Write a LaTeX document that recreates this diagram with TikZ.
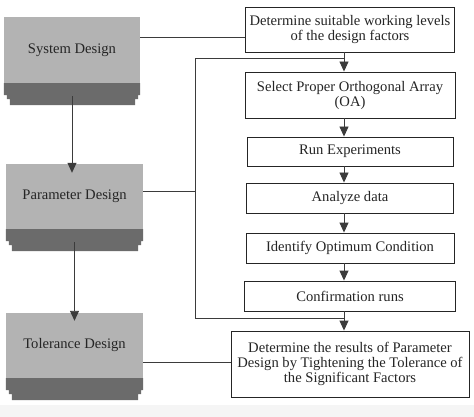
\documentclass[tikz,border=0pt]{standalone}
\usepackage{fontspec}
\setmainfont{Liberation Serif}
\usetikzlibrary{arrows.meta,calc}
\definecolor{phasegray}{HTML}{B3B3B3}
\definecolor{basegray}{HTML}{6B6B6B}
\definecolor{inkgray}{HTML}{252525}
\begin{document}
\begin{tikzpicture}[x=1pt,y=-1pt,
				every node/.style={font=\fontsize{14.6}{15}\selectfont,text=inkgray,align=center,inner sep=0pt},
				phase/.style={fill=phasegray,minimum width=137pt,minimum height=65pt},
				proc/.style={draw=inkgray,line width=0.9pt,fill=white,minimum height=30pt},
				link/.style={draw=inkgray!90,line width=0.9pt},
				flow/.style={link,-{Triangle[length=10pt,width=9pt]}}]
\useasboundingbox (0,0) rectangle (474,417);
\fill[gray!8] (0,405) rectangle (474,417);
% left column
\node[phase,minimum width=136pt,minimum height=66pt] (sys) at (72,50) {System Design};
\node[phase] (par) at (74.5,196.5) {Parameter Design};
\node[phase] (tol) at (74.5,345.5) {Tolerance Design};
\foreach \n in {sys,par,tol}
	\fill[basegray] (\n.south west) -- (\n.south east) -- ($(\n.south east)+(0,12)$)
		-- ($(\n.south east)+(-2,12)$) -- ($(\n.south east)+(-2,16)$) -- ($(\n.south east)+(-5,16)$)
		-- ($(\n.south east)+(-5,22)$) -- ($(\n.south west)+(6,22)$) -- ($(\n.south west)+(6,16)$)
		-- ($(\n.south west)+(3,16)$) -- ($(\n.south west)+(3,12)$) -- ($(\n.south west)+(0,12)$) -- cycle;
% right column
\node[proc,minimum width=209pt,minimum height=45pt] (det) at (350,29.5) {Determine suitable working levels\\of the design factors};
\node[proc,minimum width=210pt,minimum height=46pt] (sel) at (350,95) {Select Proper Orthogonal Array\\(OA)};
\node[proc,minimum width=206pt,minimum height=29pt] (run) at (350,151.5) {Run Experiments};
\node[proc,minimum width=207pt] (ana) at (350,198) {Analyze data};
\node[proc,minimum width=208pt] (ide) at (350,248) {Identify Optimum Condition};
\node[proc,minimum width=211pt] (con) at (350,296) {Confirmation runs};
\node[proc,minimum width=238pt,minimum height=66pt] (fin) at (350,364) {Determine the results of Parameter\\Design by Tightening the Tolerance of\\the Significant Factors};
\coordinate (ltop) at (195,58);
\coordinate (lbot) at (195,318);
% connectors
\draw[flow,shorten >=4pt] ([yshift=-13pt]sys.south) -- ([yshift=-13pt]sys.south |- par.north);
\draw[flow,shorten >=5pt] ([yshift=-13pt]par.south) -- ([yshift=-13pt]par.south |- tol.north);
\foreach \a/\b in {det/sel,sel/run,run/ana,ana/ide,ide/con,con/fin}
	\draw[flow] ([xshift=-6pt]\a.south) -- ([xshift=-6pt]\b.north);
\draw[link] ([yshift=13pt]sys.east) -- ([yshift=13pt]sys.east -| det.west);
\draw[link] ([yshift=5pt]par.east) -- ([yshift=5pt]par.east -| ltop);
\draw[link] ([xshift=-6pt]det.south |- ltop) -- (ltop) -- (lbot) -- ([xshift=-6pt]fin.north |- lbot);
\draw[link] ([yshift=-16.5pt]tol.east) -- ([yshift=-16.5pt]tol.east -| fin.west);
\end{tikzpicture}
\end{document}
